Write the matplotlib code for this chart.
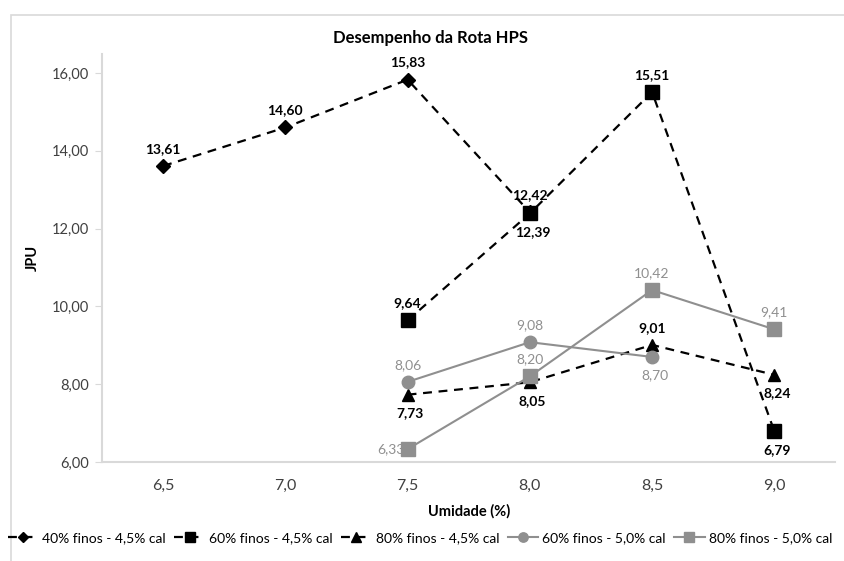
import numpy as np
import matplotlib
matplotlib.use('Agg')
from matplotlib import pyplot as plt
from matplotlib.patches import Rectangle

plt.rcParams['font.family'] = ['Lato', 'DejaVu Sans']

# dados
umidade = ['6,5', '7,0', '7,5', '8,0', '8,5', '9,0']
nomes = ['40% finos - 4,5% cal', '60% finos - 4,5% cal', '80% finos - 4,5% cal',
         '60% finos - 5,0% cal', '80% finos - 5,0% cal']
s40_45 = [13.61, 14.60, 15.83, 12.42, None, None]
s60_45 = [None, None, 9.64, 12.39, 15.51, 6.79]
s80_45 = [None, None, 7.73, 8.05, 9.01, 8.24]
s60_50 = [None, None, 8.06, 9.08, 8.70, None]
s80_50 = [None, None, 6.33, 8.20, 10.42, 9.41]

# posicao dos rotulos (acima / abaixo / esquerda)
pos40_45 = ['a', 'a', 'a', 'a', '', '']
pos60_45 = ['', '', 'a', 'b', 'a', 'b']
pos80_45 = ['', '', 'b', 'b', 'a', 'b']
pos60_50 = ['', '', 'a', 'a', 'b', '']
pos80_50 = ['', '', 'l', 'a', 'a', 'a']

cinza = '#8f8f8f'
series = [
    (s40_45, pos40_45, 'D', 'black', (0, (4, 3)), 7, True),
    (s60_45, pos60_45, 's', 'black', (0, (4, 3)), 10, True),
    (s80_45, pos80_45, '^', 'black', (0, (4, 3)), 9, True),
    (s60_50, pos60_50, 'o', cinza, '-', 9, False),
    (s80_50, pos80_50, 's', cinza, '-', 10, False),
]

fig = plt.figure(figsize=(8.45, 5.61), dpi=100)
ax = fig.add_axes([0.1207, 0.1765, 0.868, 0.728])

# moldura cinza do grafico
fig.patches.append(Rectangle((11 / 845, -0.01), 1.0, 1 - 15 / 561 + 0.01,
                             transform=fig.transFigure, fill=False,
                             edgecolor='#d9d9d9', lw=1.2, zorder=-1))

x = np.arange(len(umidade))
for (vals, pos, mk, cor, ls, ms, negrito), nome in zip(series, nomes):
    xs = [xi for xi, v in zip(x, vals) if v is not None]
    ys = [v for v in vals if v is not None]
    ax.plot(xs, ys, linestyle=ls, color=cor, lw=1.6 if negrito else 1.5,
            marker=mk, markersize=ms, markerfacecolor=cor, markeredgecolor=cor,
            label=nome)
    for xi, v, p in zip(x, vals, pos):
        if v is None:
            continue
        txt = f'{v:.2f}'.replace('.', ',')
        kw = dict(fontsize=10, color='black' if negrito else cinza,
                  fontweight='bold' if negrito else 'normal')
        if p == 'a':
            ax.annotate(txt, (xi, v), xytext=(0, 8), textcoords='offset points',
                        ha='center', va='bottom', **kw)
        elif p == 'b':
            ax.annotate(txt, (xi, v), xytext=(2, -9), textcoords='offset points',
                        ha='center', va='top', **kw)
        elif p == 'l':
            ax.annotate(txt, (xi, v), xytext=(-2, 0), textcoords='offset points',
                        ha='right', va='center', **kw)

ax.set_xlim(-0.5, len(umidade) - 0.5)
ax.set_ylim(6, 16.5)
ax.set_xticks(x)
ax.set_xticklabels(umidade, fontsize=11.5, color='#404040')
ax.set_yticks(np.arange(6, 17, 2))
ax.set_yticklabels([f'{v:.2f}'.replace('.', ',') for v in np.arange(6, 17, 2)],
                   fontsize=10.5, color='#404040')
ax.tick_params(axis='x', length=0, pad=12)
ax.tick_params(axis='y', length=5, color='#d9d9d9', pad=4)
for s in ['top', 'right']:
    ax.spines[s].set_visible(False)
for s in ['left', 'bottom']:
    ax.spines[s].set_color('#d9d9d9')
    ax.spines[s].set_linewidth(1.5)

ax.set_ylabel('JPU', fontsize=10.5, fontweight='bold', labelpad=9)
ax.set_xlabel('Umidade (%)', fontsize=10.5, fontweight='bold', labelpad=8)
fig.text(0.509, 0.933, 'Desempenho da Rota HPS', ha='center', va='center',
         fontsize=12, fontweight='bold')

fig.legend(loc='center', bbox_to_anchor=(0.497, 0.041), ncol=5, frameon=False,
           fontsize=10, handlelength=2.2, handletextpad=0.3, columnspacing=0.6,
           markerscale=0.75)

fig.savefig('out.png', dpi=100)
